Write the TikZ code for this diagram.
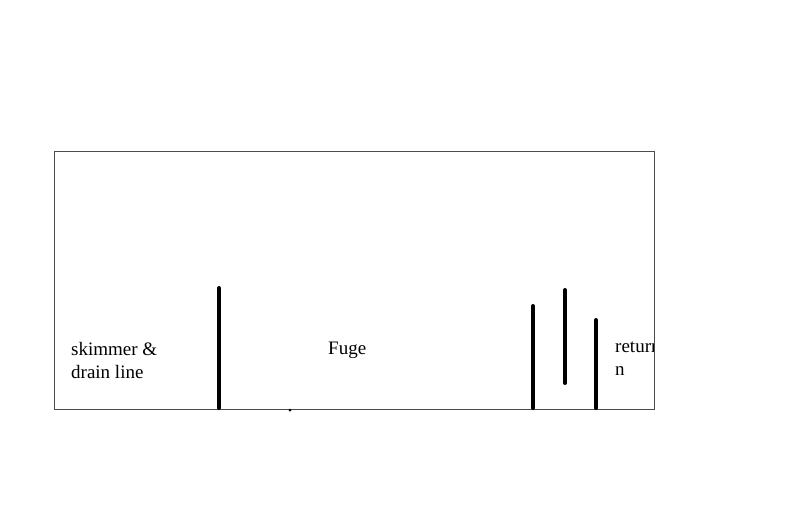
\documentclass[tikz,border=0pt]{standalone}
\usepackage{fontspec}
\setmainfont{Liberation Serif}
\begin{document}
\begin{tikzpicture}[x=1pt,y=-1pt,
  tank/.style={draw=black!70,line width=1pt},
  baffle/.style={line width=4pt,line cap=round},
  lbl/.style={anchor=base west,inner sep=0pt,font=\fontsize{19}{23}\selectfont}]
\useasboundingbox (0,0) rectangle (800,530);
\draw[tank] (54,151) rectangle (654,409);
\coordinate (b1t) at (219,288); \coordinate (b1b) at (219,408);
\coordinate (b2t) at (533,306); \coordinate (b2b) at (533,408);
\coordinate (b3t) at (565,290); \coordinate (b3b) at (565,383);
\coordinate (b4t) at (596,320); \coordinate (b4b) at (596,408);
\draw[baffle] (b1t) -- (b1b);
\draw[baffle] (b2t) -- (b2b);
\draw[baffle] (b3t) -- (b3b);
\draw[baffle] (b4t) -- (b4b);
\fill (290,410) circle (1.5);
\node[lbl] (sk) at (71,355) {skimmer \&};
\node[lbl] (dr) at (71,378) {drain line};
\node[lbl] (fu) at (328,354) {Fuge};
\begin{scope}
\clip (54,151) rectangle (653.5,409);
\node[lbl] (re) at (615,352) {return};
\end{scope}
\node[lbl] (rn) at (615,375) {n};
\end{tikzpicture}
\end{document}
